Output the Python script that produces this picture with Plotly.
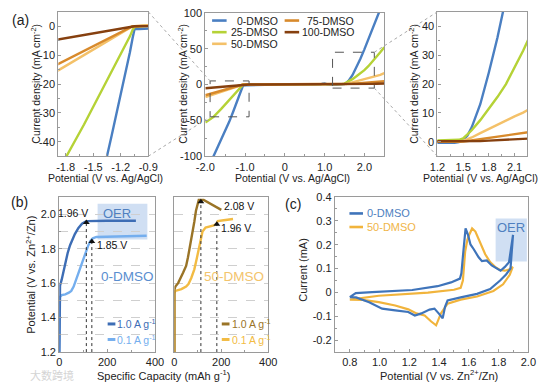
import plotly.graph_objects as go

W, H = 548, 392

# ---------------- (a) LSV data ----------------
lsv_potential = [-2.0, -1.8, -1.6, -1.4, -1.3, -1.2, -1.1, -1.07, -1.05, -1.0, -0.9, -0.5, 0.0, 0.5,
                 0.9, 0.95, 1.0, 1.05, 1.1, 1.2, 1.3, 1.4, 1.45, 1.5, 1.55, 1.6, 1.7, 1.8, 1.9,
                 2.0, 2.1, 2.2, 2.3, 2.4, 2.5]
lsv_0dmso = [-125, -101, -77, -52, -38, -24, -9, -4, -1.0, -1.0, -0.8, -0.3, -0.2, -0.1,
             0.2, 1.2, 1.5, 0.6, 0.0, -0.3, -0.4, -0.3, -0.1, 0.6, 2.2, 5, 13, 24, 36,
             49, 63, 77, 91, 105, 119]
lsv_25dmso = [-53, -45.5, -34, -22, -16, -10, -3.5, -1.2, -0.3, 0, 0, 0, 0, 0,
              0.1, 0.2, 0.3, 0.3, 0.3, 0.5, 0.5, 0.6, 0.7, 1.2, 2.5, 4, 7.5, 11.5, 15.5,
              20, 25.5, 31.5, 38, 45, 52]
lsv_50dmso = [-17.5, -13.8, -10.0, -6.3, -4.4, -2.5, -0.6, 0, 0, 0, 0, 0, 0, 0,
              0, 0, 0, 0, 0, 0, 0, 0, 0, 0.3, 0.8, 1.5, 3.0, 4.5, 6.0,
              7.4, 8.8, 10.1, 11.5, 13.5, 16]
lsv_75dmso = [-15, -11.8, -8.6, -5.4, -3.8, -2.1, -0.5, 0, 0, 0, 0, 0, 0, 0,
              0, 0, 0, 0, 0, 0, 0, 0, 0, 0.1, 0.3, 0.5, 1.0, 1.4, 1.8,
              2.2, 2.6, 2.9, 3.3, 3.9, 4.6]
lsv_100dmso = [-5.2, -4.1, -3.1, -2.0, -1.4, -0.8, -0.2, 0, 0, 0, 0, 0, 0, 0,
               0, 0, 0, 0, 0, 0, 0, 0, 0, 0, 0.05, 0.1, 0.25, 0.4, 0.55,
               0.7, 0.85, 0.95, 1.1, 1.3, 1.5]
lsv_names = ["0-DMSO", "25-DMSO", "50-DMSO", "75-DMSO", "100-DMSO"]
lsv_colors = ["#4a7fc2", "#b5d236", "#f4c169", "#d88a2c", "#86400f"]

# ---------------- (b) GCD data ----------------
cap_0d_1A = [0, 0, 3, 10, 18, 25, 35, 45, 55, 65, 80, 95, 108, 120, 200, 320]
pot_0d_1A = [1.2, 1.57, 1.585, 1.62, 1.67, 1.72, 1.775, 1.82, 1.855, 1.885, 1.92, 1.945, 1.956, 1.96, 1.962, 1.962]
cap_0d_01A = [0, 0, 3, 10, 25, 40, 50, 60, 70, 80, 90, 100, 110, 120, 130, 140, 155, 250, 365]
pot_0d_01A = [1.2, 1.50, 1.52, 1.53, 1.535, 1.545, 1.555, 1.58, 1.62, 1.66, 1.70, 1.74, 1.78, 1.815, 1.845, 1.86, 1.868, 1.872, 1.875]
cap_50d_1A = [0, 0, 4, 16, 37, 50, 58, 65, 71, 78, 85, 92, 99, 104, 125, 160, 200]
pot_50d_1A = [1.2, 1.56, 1.58, 1.60, 1.66, 1.70, 1.75, 1.80, 1.845, 1.90, 1.956, 2.02, 2.07, 2.083, 2.083, 2.055, 2.025]
cap_50d_01A = [0, 0, 4, 10, 30, 50, 60, 72, 85, 95, 106, 114, 120, 133, 150, 168, 180, 185, 210, 250]
pot_50d_01A = [1.2, 1.54, 1.555, 1.558, 1.565, 1.58, 1.595, 1.63, 1.68, 1.74, 1.807, 1.87, 1.90, 1.923, 1.93, 1.935, 1.945, 1.96, 1.965, 1.972]
mark_0d_cap = [113, 136]
mark_0d_pot = [1.952, 1.842]
mark_50d_cap = [113, 181]
mark_50d_pot = [2.072, 1.942]
mark_0d_text = ["1.96 V", "1.85 V"]
mark_50d_text = ["2.08 V", "1.96 V"]
b_colors = {"0_1": "#3d6db5", "0_01": "#74aeee", "50_1": "#9a7427", "50_01": "#f2bb43"}

# ---------------- (c) CV data ----------------
cv0_x = [0.80, 0.84, 0.95, 1.10, 1.22, 1.39, 1.48, 1.54, 1.55, 1.56, 1.57, 1.578, 1.595, 1.611, 1.633,
         1.666, 1.688, 1.72, 1.754, 1.787, 1.813, 1.842, 1.87, 1.897,
         1.88, 1.85, 1.81, 1.743, 1.655, 1.545, 1.457, 1.44, 1.424, 1.40, 1.369, 1.336, 1.281,
         1.237, 1.193, 1.105, 1.017, 0.93, 0.842, 0.80]
cv0_y = [-0.020, -0.003, 0.001, 0.005, 0.010, 0.026, 0.042, 0.058, 0.08, 0.15, 0.23, 0.268, 0.24, 0.201, 0.181,
         0.147, 0.131, 0.134, 0.113, 0.100, 0.091, 0.107, 0.127, 0.241,
         0.10, 0.075, 0.05, 0.014, -0.006, -0.021, -0.034, -0.06, -0.108, -0.09, -0.068, -0.072, -0.088,
         -0.097, -0.082, -0.075, -0.068, -0.041, -0.021, -0.020]
cv50_x = [0.80, 0.995, 1.325, 1.50, 1.545, 1.56, 1.575, 1.59, 1.605, 1.622, 1.644, 1.677, 1.71, 1.743,
          1.776, 1.809, 1.842, 1.87, 1.895,
          1.875, 1.83, 1.765, 1.655, 1.545, 1.457, 1.413, 1.38, 1.347, 1.303, 1.248, 1.193, 1.105,
          0.995, 0.886, 0.80]
cv50_y = [-0.030, -0.014, -0.001, 0.011, 0.019, 0.05, 0.17, 0.22, 0.245, 0.268, 0.255, 0.207, 0.16, 0.127,
          0.107, 0.094, 0.091, 0.096, 0.107,
          0.074, 0.034, 0.006, -0.017, -0.030, -0.047, -0.087, -0.138, -0.122, -0.097, -0.088, -0.071, -0.055,
          -0.041, -0.031, -0.030]
cv_colors = ["#3f74ba", "#f1b43c"]

# ---------------- tick labels ----------------
a1_xticks, a1_xtext = [-1.8, -1.5, -1.2, -0.9], ["-1.8", "-1.5", "-1.2", "-0.9"]
a1_yticks, a1_ytext = [0, -10, -20, -30, -40], ["0", "-10", "-20", "-30", "-40"]
a2_xticks, a2_xtext = [-2, -1, 0, 1, 2], ["-2.0", "-1.0", "0", "1.0", "2.0"]
a2_yticks, a2_ytext = [-100, -50, 0, 50, 100], ["-100", "-50", "0", "50", "100"]
a3_xticks, a3_xtext = [1.2, 1.5, 1.8, 2.1], ["1.2", "1.5", "1.8", "2.1"]
a3_yticks, a3_ytext = [0, 10, 20, 30, 40], ["0", "10", "20", "30", "40"]
b_xticks, b_xtext = [0, 200, 400], ["0", "200", "400"]
b_yticks, b_ytext = [1.2, 1.4, 1.6, 1.8, 2.0], ["1.2", "1.4", "1.6", "1.8", "2.0"]
c_xticks, c_xtext = [0.8, 1.0, 1.2, 1.4, 1.6, 1.8, 2.0], ["0.8", "1.0", "1.2", "1.4", "1.6", "1.8", "2.0"]
c_yticks, c_ytext = [-0.2, -0.1, 0, 0.1, 0.2, 0.3, 0.4], ["-0.2", "-0.1", "0", "0.1", "0.2", "0.3", "0.4"]

FONT = "Liberation Sans, Arial, sans-serif"
AX = "#9a9a9a"
TXT = "#222222"


def xd(a, b):
    return [a / W, b / W]


def yd(top, bottom):
    return [1 - bottom / H, 1 - top / H]


dom = {
    "a1": (xd(51, 144), yd(6, 155)),
    "a2": (xd(203, 388), yd(7, 155)),
    "a3": (xd(443, 536), yd(6, 155)),
    "b1": (xd(52, 151), yd(197, 357)),
    "b2": (xd(171, 268), yd(197, 357)),
    "c": (xd(337, 537), yd(197, 357)),
}
rng = {
    "a1": ([-1.88, -0.9], [-45, 5]),
    "a2": ([-2.0, 2.5], [-100, 100]),
    "a3": ([1.2, 2.25], [-5, 45]),
    "b1": ([0, 400], [1.2, 2.1]),
    "b2": ([0, 400], [1.2, 2.1]),
    "c": ([0.7, 2.0], [-0.25, 0.4]),
}
axid = {"a1": "", "a2": "2", "a3": "3", "b1": "4", "b2": "5", "c": "6"}


def axis(domain, r, anchor, tickvals=None, ticktext=None, minor_dtick=None, minor_tick0=None,
         showlabels=True, **kw):
    d = dict(domain=domain, range=r, anchor=anchor, showline=True, linecolor=AX, linewidth=1.2,
             mirror=True, ticks="inside", ticklen=3, tickcolor=AX, tickwidth=1, showgrid=False,
             zeroline=False, tickfont=dict(size=11, color=TXT, family=FONT), fixedrange=True,
             showticklabels=showlabels)
    if tickvals is not None:
        d.update(tickmode="array", tickvals=tickvals, ticktext=ticktext)
    if minor_dtick is not None:
        d["minor"] = dict(ticks="inside", ticklen=2, tickcolor=AX, dtick=minor_dtick, tick0=minor_tick0,
                          tickmode="linear")
    d.update(kw)
    return d


fig = go.Figure()

for key in ["a1", "a2", "a3"]:
    s = axid[key]
    for name, ys, col in zip(lsv_names, [lsv_0dmso, lsv_25dmso, lsv_50dmso, lsv_75dmso, lsv_100dmso], lsv_colors):
        fig.add_trace(go.Scatter(x=lsv_potential, y=ys, mode="lines", name=name,
                                 line=dict(color=col, width=2.4), showlegend=False,
                                 xaxis="x" + s, yaxis="y" + s))

for cap, pot, col, s in [(cap_0d_01A, pot_0d_01A, b_colors["0_01"], "4"),
                         (cap_0d_1A, pot_0d_1A, b_colors["0_1"], "4"),
                         (cap_50d_01A, pot_50d_01A, b_colors["50_01"], "5"),
                         (cap_50d_1A, pot_50d_1A, b_colors["50_1"], "5")]:
    fig.add_trace(go.Scatter(x=cap, y=pot, mode="lines", line=dict(color=col, width=2.4),
                             showlegend=False, xaxis="x" + s, yaxis="y" + s))

for caps, pots, s in [(mark_0d_cap, mark_0d_pot, "4"), (mark_50d_cap, mark_50d_pot, "5")]:
    for c_, p_ in zip(caps, pots):
        fig.add_trace(go.Scatter(x=[c_, c_], y=[rng["b1"][1][0], p_], mode="lines",
                                 line=dict(color="#333333", width=1, dash="dot"),
                                 showlegend=False, xaxis="x" + s, yaxis="y" + s))
    fig.add_trace(go.Scatter(x=caps, y=pots, mode="markers",
                             marker=dict(symbol="triangle-up", size=6, color="#111111"),
                             showlegend=False, xaxis="x" + s, yaxis="y" + s))

fig.add_trace(go.Scatter(x=cv50_x, y=cv50_y, mode="lines", line=dict(color=cv_colors[1], width=2.2),
                         showlegend=False, xaxis="x6", yaxis="y6"))
fig.add_trace(go.Scatter(x=cv0_x, y=cv0_y, mode="lines", line=dict(color=cv_colors[0], width=2.2),
                         showlegend=False, xaxis="x6", yaxis="y6"))

layout = dict(width=W, height=H, margin=dict(l=0, r=0, t=0, b=0), paper_bgcolor="white",
              plot_bgcolor="white", font=dict(family=FONT, size=11, color=TXT), showlegend=False,
              hovermode=False)

ticks_x = {"a1": (a1_xticks, a1_xtext, 0.15, -1.8), "a2": (a2_xticks, a2_xtext, 0.5, -2.0),
           "a3": (a3_xticks, a3_xtext, 0.15, 1.2), "b1": (b_xticks, b_xtext, 100, 0),
           "b2": (b_xticks, b_xtext, 100, 0), "c": (c_xticks, c_xtext, 0.1, 0.8)}
ticks_y = {"a1": (a1_yticks, a1_ytext, 5, 0), "a2": (a2_yticks, a2_ytext, 25, 0),
           "a3": (a3_yticks, a3_ytext, 5, 0), "b1": (b_yticks, b_ytext, 0.1, 1.2),
           "b2": (b_yticks, b_ytext, 0.1, 1.2), "c": (c_yticks, c_ytext, 0.05, 0)}

for key in dom:
    s = axid[key]
    xt = ticks_x[key]
    yt = ticks_y[key]
    layout["xaxis" + s] = axis(dom[key][0], rng[key][0], "y" + s, xt[0], xt[1], xt[2], xt[3])
    yextra = {}
    if key in ("b1", "b2"):
        yextra = dict(showgrid=True, gridcolor="#cfcfcf", griddash="dash", gridwidth=0.8)
    ya = axis(dom[key][1], rng[key][1], "x" + s, yt[0], yt[1], yt[2], yt[3],
              showlabels=(key != "b2"), **yextra)
    if key in ("b1", "b2"):
        ya["minor"].update(showgrid=True, gridcolor="#cfcfcf", griddash="dash", gridwidth=0.8)
    if key == "b2":
        ya["ticks"] = ""
        ya["minor"]["ticks"] = ""
    layout["yaxis" + s] = ya


def to_paper(key, xv, yv):
    (xr, yr), (xdm, ydm) = rng[key], dom[key]
    px_ = xdm[0] + (xv - xr[0]) / (xr[1] - xr[0]) * (xdm[1] - xdm[0])
    py_ = ydm[0] + (yv - yr[0]) / (yr[1] - yr[0]) * (ydm[1] - ydm[0])
    return px_, py_


shapes = []
for key in ["a1", "a3"]:
    xr, yr = rng[key]
    shapes.append(dict(type="rect", xref="x2", yref="y2", x0=xr[0], x1=xr[1], y0=yr[0], y1=yr[1],
                       line=dict(color="#555555", width=1, dash="dash")))
conn = [
    (("a1", rng["a1"][0][1], rng["a1"][1][1]), ("a2", rng["a1"][0][0], rng["a1"][1][1])),
    (("a1", rng["a1"][0][1], rng["a1"][1][0]), ("a2", rng["a1"][0][0], rng["a1"][1][0])),
    (("a2", rng["a3"][0][1], rng["a3"][1][1]), ("a3", rng["a3"][0][0], rng["a3"][1][1])),
    (("a2", rng["a3"][0][1], rng["a3"][1][0]), ("a3", rng["a3"][0][0], rng["a3"][1][0])),
]
for (k1, x1, y1), (k2, x2, y2) in conn:
    p1 = to_paper(k1, x1, y1)
    p2 = to_paper(k2, x2, y2)
    shapes.append(dict(type="line", xref="paper", yref="paper", x0=p1[0], y0=p1[1], x1=p2[0], y1=p2[1],
                       line=dict(color="#aaaaaa", width=1, dash="dot")))
shapes.append(dict(type="rect", xref="x4", yref="y4", x0=160, x1=368, y0=1.853, y1=2.06,
                   fillcolor="rgba(170,196,234,0.55)", line=dict(width=0), layer="below"))
shapes.append(dict(type="rect", xref="x6", yref="y6", x0=1.78, x1=1.99, y0=0.13, y1=0.31,
                   fillcolor="rgba(170,196,234,0.55)", line=dict(width=0), layer="below"))


def swatch(x0, x1, py, color, width=2.6):
    shapes.append(dict(type="line", xref="paper", yref="paper", x0=x0 / W, x1=x1 / W,
                       y0=1 - py / H, y1=1 - py / H, line=dict(color=color, width=width)))


annotations = []


def ann(text, px_, py_, size=11, color=TXT, xanchor="center", yanchor="middle", angle=0, family=FONT):
    annotations.append(dict(text=text, x=px_ / W, y=1 - py_ / H, xref="paper", yref="paper",
                            showarrow=False, xanchor=xanchor, yanchor=yanchor, textangle=angle,
                            font=dict(size=size, color=color, family=family)))


rows = [15, 27, 39]
swatch(210, 225, rows[0], lsv_colors[0])
ann(lsv_names[0], 234, rows[0], size=10.5, xanchor="left")
swatch(210, 225, rows[1], lsv_colors[1])
ann(lsv_names[1], 227, rows[1], size=10.5, xanchor="left")
swatch(210, 225, rows[2], lsv_colors[2])
ann(lsv_names[2], 227, rows[2], size=10.5, xanchor="left")
swatch(285, 300, rows[0], lsv_colors[3])
ann(lsv_names[3], 306, rows[0], size=10.5, xanchor="left")
swatch(285, 300, rows[1], lsv_colors[4])
ann(lsv_names[4], 301, rows[1], size=10.5, xanchor="left")

ytitle_a = "Current density (mA cm<sup>-2</sup>)"
xtitle_a = "Potential (V vs. Ag/AgCl)"
ann(ytitle_a, 27, 80, size=10.5, angle=-90)
ann(ytitle_a, 179, 80, size=10.5, angle=-90)
ann(ytitle_a, 418, 80, size=10.5, angle=-90)
ann(xtitle_a, 100, 177, size=10.5)
ann(xtitle_a, 293, 177, size=10.5)
ann(xtitle_a, 488, 177, size=10.5)

ann("(a)", 12, 14, size=14)
ann("(b)", 11, 202, size=14)
ann("(c)", 294, 204, size=14)

ann("Potential (V vs. Zn<sup>2+</sup>/Zn)", 22, 277, size=11, angle=-90)
ann("Specific Capacity (mAh g<sup>-1</sup>)", 160, 381, size=11)
for cap, pot, txt, anc in [(57, 2.005, mark_0d_text[0], "center"), (150, 1.82, mark_0d_text[1], "left")]:
    annotations.append(dict(text=txt, x=cap, y=pot, xref="x4", yref="y4", showarrow=False,
                            xanchor=anc, font=dict(size=10.5, color="#111111", family=FONT)))
for cap, pot, txt in [(205, 2.05, mark_50d_text[0]), (190, 1.92, mark_50d_text[1])]:
    annotations.append(dict(text=txt, x=cap, y=pot, xref="x5", yref="y5", showarrow=False,
                            xanchor="left", font=dict(size=10.5, color="#111111", family=FONT)))
annotations.append(dict(text="OER", x=242, y=2.005, xref="x4", yref="y4", showarrow=False,
                        font=dict(size=13, color="#4f7fc0", family=FONT)))
annotations.append(dict(text="0-DMSO", x=285, y=1.64, xref="x4", yref="y4", showarrow=False,
                        font=dict(size=13.5, color="#5a8ed0", family=FONT)))
annotations.append(dict(text="50-DMSO", x=255, y=1.64, xref="x5", yref="y5", showarrow=False,
                        font=dict(size=13.5, color="#f3c46c", family=FONT)))
swatch(102, 110, 328, b_colors["0_1"], 3)
ann("1.0 A g<sup>-1</sup>", 110, 328, size=10.5, color=b_colors["0_1"], xanchor="left")
swatch(102, 110, 344, b_colors["0_01"], 3)
ann("0.1 A g<sup>-1</sup>", 110, 344, size=10.5, color=b_colors["0_01"], xanchor="left")
swatch(220, 228, 328, b_colors["50_1"], 3)
ann("1.0 A g<sup>-1</sup>", 228, 328, size=10.5, color=b_colors["50_1"], xanchor="left")
swatch(220, 228, 344, b_colors["50_01"], 3)
ann("0.1 A g<sup>-1</sup>", 228, 344, size=10.5, color=b_colors["50_01"], xanchor="left")

ann("Current (mA)", 304, 272, size=11, angle=-90)
ann("Potential (V vs. Zn<sup>2+</sup>/Zn)", 445, 381, size=11)
swatch(352, 366, 214, cv_colors[0])
ann("0-DMSO", 368, 214, size=11, color="#4f7fc0", xanchor="left")
swatch(352, 366, 228, cv_colors[1])
ann("50-DMSO", 368, 228, size=11, color="#f0b548", xanchor="left")
annotations.append(dict(text="OER", x=1.885, y=0.27, xref="x6", yref="y6", showarrow=False,
                        font=dict(size=13, color="#4f7fc0", family=FONT)))

ann("大数跨境", 44, 381, size=11, color="#d4d4d4", family="Noto Sans CJK SC")

layout["shapes"] = shapes
layout["annotations"] = annotations
fig.update_layout(**layout)
fig.write_html("out.html", config={"displayModeBar": False},
               post_script="document.body.style.margin='0';")
